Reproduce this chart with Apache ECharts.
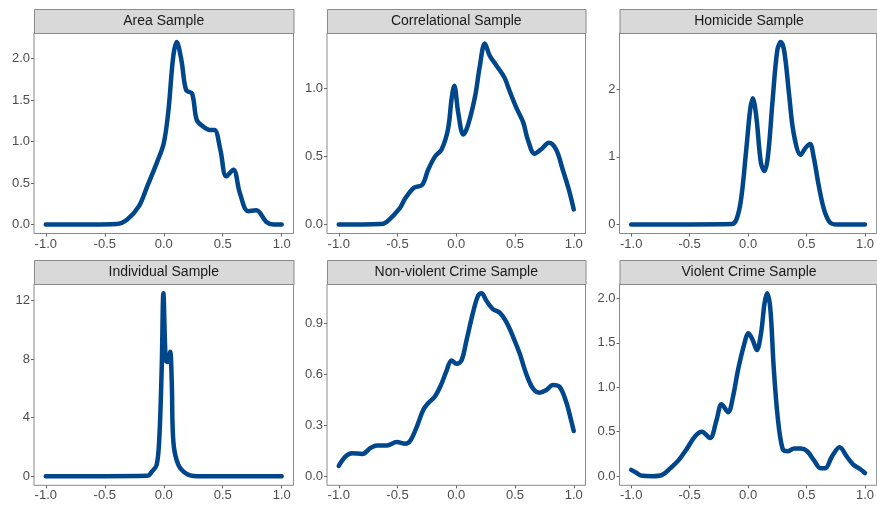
<!DOCTYPE html>
<html>
<head>
<meta charset="utf-8">
<script src="https://cdn.jsdelivr.net/npm/echarts@6/dist/echarts.min.js"></script>
<style>
  html, body { margin: 0; padding: 0; background: #ffffff; }
  #chart { width: 877px; height: 508px; }
</style>
</head>
<body>
<div id="chart"></div>
<script>
// Density estimates per sample (x = effect size, y = density)
const panelTitles = ["Area Sample", "Correlational Sample", "Homicide Sample",
                     "Individual Sample", "Non-violent Crime Sample", "Violent Crime Sample"];

const areaX = [-1.0, -0.6, -0.4, -0.31, -0.21, -0.14, -0.06, 0.0, 0.04, 0.08, 0.11, 0.15, 0.19, 0.24, 0.28, 0.335, 0.39, 0.43, 0.48, 0.53, 0.59, 0.645, 0.715, 0.785, 0.87, 0.93, 1.0];
const areaY = [0, 0, 0.005, 0.06, 0.22, 0.46, 0.74, 0.98, 1.38, 2.02, 2.2, 1.98, 1.62, 1.58, 1.26, 1.18, 1.14, 1.14, 0.9, 0.58, 0.66, 0.38, 0.16, 0.17, 0.03, 0, 0];

const corrX = [-1.0, -0.8, -0.647, -0.59, -0.48, -0.435, -0.36, -0.29, -0.24, -0.18, -0.125, -0.07, -0.04, -0.017, 0.017, 0.06, 0.10, 0.16, 0.20, 0.243, 0.285, 0.34, 0.41, 0.45, 0.51, 0.57, 0.61, 0.667, 0.72, 0.79, 0.85, 0.907, 0.96, 1.0];
const corrY = [0, 0, 0.002, 0.02, 0.12, 0.19, 0.27, 0.29, 0.40, 0.50, 0.55, 0.70, 0.92, 1.02, 0.82, 0.66, 0.73, 0.94, 1.16, 1.33, 1.24, 1.17, 1.08, 0.99, 0.86, 0.75, 0.62, 0.52, 0.55, 0.60, 0.55, 0.40, 0.25, 0.11];

const homX = [-1.0, -0.5, -0.14, -0.10, -0.06, -0.016, 0.018, 0.04, 0.07, 0.11, 0.14, 0.17, 0.21, 0.25, 0.28, 0.31, 0.35, 0.39, 0.45, 0.49, 0.53, 0.56, 0.605, 0.65, 0.70, 0.76, 1.0];
const homY = [0, 0, 0.005, 0.07, 0.37, 1.1, 1.70, 1.87, 1.60, 0.91, 0.79, 1.01, 1.84, 2.58, 2.70, 2.56, 1.94, 1.35, 1.03, 1.13, 1.19, 1.01, 0.57, 0.22, 0.03, 0, 0];

const indX = [-1.0, -0.5, -0.14, -0.10, -0.06, -0.037, -0.017, -0.003, 0.017, 0.034, 0.054, 0.068, 0.082, 0.124, 0.194, 0.28, 1.0];
const indY = [0, 0, 0.02, 0.32, 0.77, 2.7, 7.5, 12.5, 7.9, 7.8, 8.5, 6.4, 2.3, 0.77, 0.16, 0, 0];

const nonvX = [-1.0, -0.944, -0.887, -0.80, -0.73, -0.675, -0.59, -0.506, -0.435, -0.39, -0.336, -0.28, -0.237, -0.18, -0.124, -0.082, -0.04, 0.003, 0.045, 0.088, 0.144, 0.186, 0.215, 0.257, 0.314, 0.37, 0.427, 0.483, 0.54, 0.596, 0.653, 0.71, 0.765, 0.822, 0.879, 0.935, 0.977, 1.0];
const nonvY = [0.06, 0.115, 0.135, 0.13, 0.165, 0.18, 0.18, 0.20, 0.19, 0.21, 0.29, 0.39, 0.43, 0.47, 0.545, 0.62, 0.68, 0.66, 0.68, 0.80, 0.965, 1.06, 1.075, 1.03, 0.98, 0.96, 0.905, 0.82, 0.72, 0.60, 0.515, 0.49, 0.505, 0.535, 0.525, 0.437, 0.33, 0.265];

const violX = [-1.0, -0.96, -0.904, -0.82, -0.735, -0.664, -0.594, -0.523, -0.453, -0.396, -0.326, -0.27, -0.227, -0.17, -0.129, -0.086, -0.035, 0.004, 0.04, 0.075, 0.111, 0.14, 0.162, 0.19, 0.219, 0.253, 0.295, 0.337, 0.394, 0.45, 0.506, 0.563, 0.62, 0.66, 0.717, 0.783, 0.845, 0.90, 0.958, 1.0];
const violY = [0.07, 0.04, 0.004, 0, 0.015, 0.09, 0.18, 0.31, 0.45, 0.50, 0.43, 0.63, 0.81, 0.72, 0.895, 1.195, 1.475, 1.61, 1.53, 1.42, 1.61, 1.94, 2.06, 1.89, 1.23, 0.67, 0.31, 0.28, 0.31, 0.31, 0.28, 0.18, 0.09, 0.09, 0.22, 0.325, 0.22, 0.13, 0.08, 0.035];

// Tick positions
const xTicks = [-1.0, -0.5, 0.0, 0.5, 1.0];
const yTicks = [
  [0, 0.5, 1.0, 1.5, 2.0],
  [0, 0.5, 1.0],
  [0, 1, 2],
  [0, 4, 8, 12],
  [0, 0.3, 0.6, 0.9],
  [0, 0.5, 1.0, 1.5, 2.0]
];
const yDecimals = [1, 1, 0, 0, 1, 1];
const seriesX = [areaX, corrX, homX, indX, nonvX, violX];
const seriesY = [areaY, corrY, homY, indY, nonvY, violY];
const yMax = [2.2, 1.34, 2.7, 12.5, 1.075, 2.06];

// Layout of the 3 x 2 facet grid
const colLeft = [34, 327, 619.5];
const colWidth = [259.5, 258.5, 259];
const rowStripTop = [9, 260];
const stripH = 24;
const rowPlotH = [200.5, 201.3];

const lineColor = '#00468B';
const font = '"Liberation Sans", Arial, sans-serif';

const grids = [], xAxes = [], yAxes = [], series = [], graphics = [];
for (let i = 0; i < 6; i++) {
  const c = i % 3, r = Math.floor(i / 3);
  const left = colLeft[c], width = colWidth[c];
  const top = rowStripTop[r] + stripH, height = rowPlotH[r];
  grids.push({ left: left, top: top, width: width, height: height, show: true,
               borderColor: '#8a8a8a', borderWidth: 1, backgroundColor: '#ffffff' });
  xAxes.push({
    type: 'value', gridIndex: i, min: -1.1, max: 1.1, position: 'bottom',
    axisLine: { show: false, onZero: false },
    splitLine: { show: false },
    axisTick: { show: true, inside: false, length: 3, customValues: xTicks, lineStyle: { color: '#666666' } },
    axisLabel: { customValues: xTicks, color: '#4D4D4D', fontSize: 13, fontFamily: font,
                 margin: 4, formatter: v => v.toFixed(1) }
  });
  const ym = yMax[i];
  const dec = yDecimals[i];
  yAxes.push({
    type: 'value', gridIndex: i, min: -0.05 * ym, max: 1.05 * ym, position: 'left',
    axisLine: { show: false, onZero: false },
    splitLine: { show: false },
    axisTick: { show: true, inside: false, length: 3, customValues: yTicks[i], lineStyle: { color: '#666666' } },
    axisLabel: { customValues: yTicks[i], color: '#4D4D4D', fontSize: 13, fontFamily: font,
                 margin: 4, formatter: v => v.toFixed(dec) }
  });
  series.push({
    type: 'line', xAxisIndex: i, yAxisIndex: i, showSymbol: false, smooth: 0.35,
    data: seriesX[i].map((x, k) => [x, seriesY[i][k]]),
    lineStyle: { color: lineColor, width: 4.5, cap: 'round', join: 'round' },
    animation: false
  });
  // facet strip
  graphics.push({
    type: 'rect', left: left, top: rowStripTop[r],
    shape: { width: width, height: stripH },
    style: { fill: '#D9D9D9', stroke: '#8a8a8a', lineWidth: 1 }
  });
  graphics.push({
    type: 'text', x: left + width / 2, y: rowStripTop[r] + stripH / 2 + 0.5,
    style: { text: panelTitles[i], fill: '#1A1A1A', font: '14px ' + font,
             align: 'center', verticalAlign: 'middle' }
  });
}

const chart = echarts.init(document.getElementById('chart'), null, { renderer: 'canvas' });
chart.setOption({
  backgroundColor: '#ffffff',
  animation: false,
  grid: grids,
  xAxis: xAxes,
  yAxis: yAxes,
  series: series,
  graphic: graphics
});
</script>
</body>
</html>
